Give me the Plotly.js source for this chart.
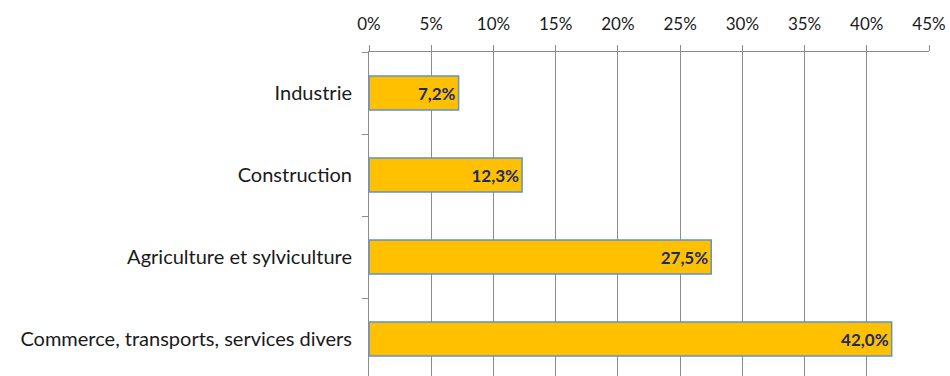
<!DOCTYPE html>
<html>
<head>
<meta charset="utf-8">
<script src="https://cdn.plot.ly/plotly-3.0.1.min.js"></script>
<style>html,body{margin:0;padding:0;background:#fff;}#chart{width:950px;height:376px;}</style>
</head>
<body>
<div id="chart"></div>
<script>
var categories = ["Industrie", "Construction", "Agriculture et sylviculture", "Commerce, transports, services divers"];
var values = [7.2, 12.3, 27.5, 42.0];
var valueLabels = ["7,2%", "12,3%", "27,5%", "42,0%"];
var tickValues = [0, 5, 10, 15, 20, 25, 30, 35, 40, 45];
var tickLabels = ["0%", "5%", "10%", "15%", "20%", "25%", "30%", "35%", "40%", "45%"];

var trace = {
  type: "bar",
  orientation: "h",
  y: categories,
  x: values,
  text: valueLabels,
  textposition: "inside",
  insidetextanchor: "end",
  textangle: 0,
  constraintext: "none",
  textfont: {family: "Lato, 'Open Sans', sans-serif", size: 17, color: "#1c2b6b", weight: "bold"},
  width: 0.415,
  marker: {color: "#FFC000", line: {color: "#5b93d8", width: 1.5}},
  hoverinfo: "none",
  cliponaxis: false
};

var layout = {
  width: 950,
  height: 376,
  margin: {l: 369, r: 21, t: 52, b: 0, pad: 0},
  paper_bgcolor: "#ffffff",
  plot_bgcolor: "#ffffff",
  showlegend: false,
  font: {family: "Lato, 'Open Sans', sans-serif", size: 16, color: "#1a1a1a"},
  xaxis: {
    side: "top",
    range: [0, 45],
    tickmode: "array",
    tickvals: tickValues,
    ticktext: tickLabels,
    showgrid: true,
    gridcolor: "#8c8c8c",
    gridwidth: 1,
    showline: true,
    linecolor: "#8c8c8c",
    linewidth: 1,
    ticks: "outside",
    ticklen: 6,
    tickcolor: "#8c8c8c",
    tickfont: {size: 17, color: "#1a1a1a"},
    ticklabelstandoff: 8,
    zeroline: false,
    fixedrange: true
  },
  yaxis: {
    type: "category",
    range: [3.451, -0.5],
    tickson: "boundaries",
    ticks: "outside",
    ticklen: 6,
    tickcolor: "#8c8c8c",
    showline: true,
    linecolor: "#8c8c8c",
    linewidth: 1,
    showgrid: false,
    tickfont: {size: 20, color: "#1a1a1a"},
    ticklabelstandoff: 12,
    fixedrange: true
  }
};

Plotly.newPlot("chart", [trace], layout, {displayModeBar: false, staticPlot: true});
</script>
</body>
</html>
